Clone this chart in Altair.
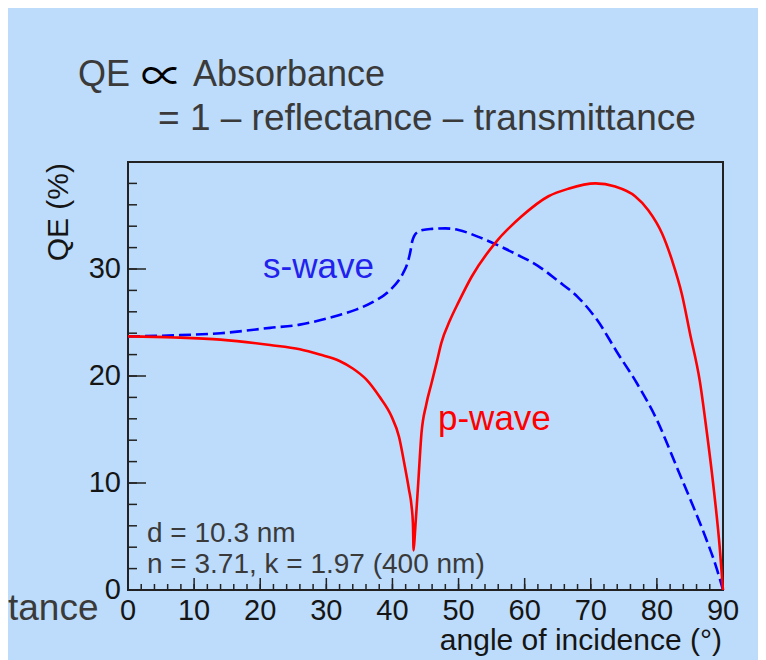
import altair as alt
import pandas as pd

# ---- data ----
angle_s = [0, 7, 14, 21.5, 26, 29, 32, 34.5, 37, 39.6, 41.6, 42.2, 42.7, 43.0, 43.3, 43.8, 44.6, 46, 48, 50,
           53, 56, 59, 62, 65, 68, 71, 74, 77, 80, 83, 85.5, 87.5, 89, 90]
qe_s = [23.7, 23.8, 24.0, 24.5, 24.8, 25.2, 25.7, 26.2, 26.9, 28.0, 29.6, 30.4, 31.6, 32.6, 33.1, 33.45, 33.65,
        33.75, 33.8, 33.65, 33.0, 32.2, 31.3, 30.3, 28.9, 27.4, 25.2, 22.2, 19.3, 15.9, 11.5, 7.8, 4.7, 2.1, 0.0]

angle_p = [0, 7, 14, 21.5, 26, 29, 32, 34, 36, 38, 39.8, 41, 41.8, 42.5, 42.9, 43.1, 43.2, 43.4, 43.9, 44.4,
           45.1, 45.9, 46.7, 47.4, 48.7, 50, 52, 55.5, 59.5, 63.6, 66.6, 70.7, 73.7, 76.7, 78.7, 80.8, 82.3,
           83.8, 85, 86.5, 87.5, 88.5, 89.5, 90]
qe_p = [23.7, 23.6, 23.4, 22.9, 22.5, 22.0, 21.4, 20.7, 19.7, 18.1, 16.3, 14.3, 11.8, 9.4, 7.8, 6.2, 3.7, 5.3,
        10.0, 14.7, 17.3, 19.3, 21.3, 23.1, 25.2, 26.9, 29.3, 32.4, 34.9, 36.8, 37.5, 38.0, 37.7, 36.8, 35.5,
        33.3, 30.8, 27.6, 24.0, 19.5, 15.0, 10.0, 4.0, 0.0]

x_major = [0, 10, 20, 30, 40, 50, 60, 70, 80, 90]
x_minor = [0, 2, 4, 6, 8, 10, 12, 14, 16, 18, 20, 22, 24, 26, 28, 30, 32, 34, 36, 38, 40, 42, 44, 46, 48, 50,
           52, 54, 56, 58, 60, 62, 64, 66, 68, 70, 72, 74, 76, 78, 80, 82, 84, 86, 88, 90]
y_major = [0, 10, 20, 30]
y_minor = [0, 2, 4, 6, 8, 10, 12, 14, 16, 18, 20, 22, 24, 26, 28, 30, 32, 34, 36, 38]

title_qe = "QE"
title_prop = "\u221d"
title_abs = "Absorbance"
title_line2 = "= 1 \u2013 reflectance \u2013 transmittance"
y_title = "QE (%)"
x_title = "angle of incidence (\u00b0)"
s_label = "s-wave"
p_label = "p-wave"
note1 = "d = 10.3 nm"
note2 = "n = 3.71, k = 1.97 (400 nm)"
cut_text = "tance"

# ---- layout / style ----
W, H = 595, 428
BG = "#bddcfb"
FONT = "Liberation Sans"
TXT = "#3a3a3a"
FRAME = "#222222"
TICKTXT = "#151515"

xs = alt.Scale(domain=[0, 90], nice=False, zero=False)
ys = alt.Scale(domain=[0, 40], nice=False, zero=False)

s_df = pd.DataFrame({"angle": angle_s, "qe": qe_s})
p_df = pd.DataFrame({"angle": angle_p, "qe": qe_p})

p_line = alt.Chart(p_df).mark_line(color="#ff0000", strokeWidth=2.6, interpolate="monotone").encode(
    x=alt.X("angle:Q", scale=xs, axis=None),
    y=alt.Y("qe:Q", scale=ys, axis=None),
    order="angle:Q",
)
s_line = alt.Chart(s_df).mark_line(color="#0000ff", strokeWidth=2.6, strokeDash=[12, 5],
                                   interpolate="monotone").encode(
    x=alt.X("angle:Q", scale=xs, axis=None),
    y=alt.Y("qe:Q", scale=ys, axis=None),
    order="angle:Q",
)


def xticks(vals, length):
    return alt.Chart(pd.DataFrame({"v": vals})).mark_rule(color=FRAME, strokeWidth=1.5).encode(
        x=alt.X("v:Q", scale=xs, axis=None), y=alt.value(H), y2=alt.value(H - length))


def yticks(vals, length):
    return alt.Chart(pd.DataFrame({"v": vals})).mark_rule(color=FRAME, strokeWidth=1.5).encode(
        y=alt.Y("v:Q", scale=ys, axis=None), x=alt.value(0), x2=alt.value(length))


def xlabels(vals):
    return alt.Chart(pd.DataFrame({"v": vals})).mark_text(
        align="center", baseline="top", fontSize=29, font=FONT, color=TICKTXT
    ).encode(x=alt.X("v:Q", scale=xs, axis=None), y=alt.value(H + 7), text=alt.Text("v:Q", format="d"))


def ylabels(vals):
    return alt.Chart(pd.DataFrame({"v": vals})).mark_text(
        align="right", baseline="middle", fontSize=29, font=FONT, color=TICKTXT
    ).encode(y=alt.Y("v:Q", scale=ys, axis=None), x=alt.value(-7), text=alt.Text("v:Q", format="d"))


def label(txt, x, y, size, color, align="left", angle=0, baseline="alphabetic", font=FONT):
    return alt.Chart(pd.DataFrame({"t": [txt]})).mark_text(
        align=align, baseline=baseline, fontSize=size, color=color, font=font, angle=angle
    ).encode(x=alt.value(x), y=alt.value(y), text="t:N")


layers = [
    xticks(x_minor, 6), xticks(x_major, 12),
    yticks(y_minor, 9), yticks(y_major, 18),
    xlabels(x_major), ylabels(y_major),
    s_line, p_line,
    label(title_qe, -50, -76, 36, TXT),
    label(title_prop, 13, -71, 42, "#000000", font="Noto Sans CJK JP"),
    label(title_abs, 65, -76, 36, TXT),
    label(title_line2, 30, -32, 37, TXT),
    label(y_title, -69, 1, 30, TICKTXT, align="right", angle=270, baseline="middle"),
    label(x_title, 594, 488, 30, TICKTXT, align="right"),
    label(cut_text, -120, 458, 37, TXT),
    label(s_label, 135, 116, 35, "#2222ee"),
    label(p_label, 310, 268, 35, "#ff0000"),
    label(note1, 19, 380, 28, TXT),
    label(note2, 19, 411, 28, TXT),
]

chart = alt.layer(*layers).properties(
    width=W, height=H,
    background=BG,
    padding={"left": 120, "top": 154, "right": 35, "bottom": 70},
    autosize=alt.AutoSizeParams(type="none"),
).configure_view(stroke=FRAME, strokeWidth=2)

chart.save("out.html", embed_options={"renderer": "svg", "actions": False})
